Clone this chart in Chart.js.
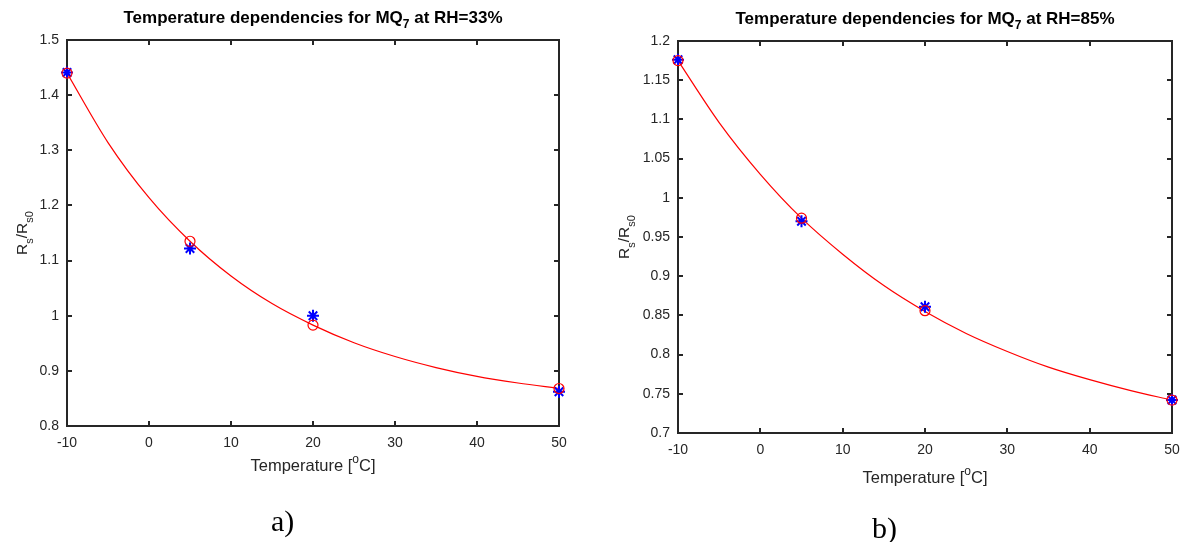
<!DOCTYPE html>
<html><head><meta charset="utf-8">
<script src="https://cdn.jsdelivr.net/npm/chart.js@4"></script>
<style>
html,body{margin:0;padding:0;background:#fff;width:1192px;height:542px;overflow:hidden}
.wrap{position:absolute;top:0;height:542px}
.lab{position:absolute;font-family:"Liberation Serif","Times New Roman",serif;font-size:30px;color:#000;line-height:1}
</style></head><body>
<div class="wrap" style="left:0;width:596px"><canvas id="c1" width="596" height="542"></canvas></div>
<div class="wrap" style="left:600px;width:592px"><canvas id="c2" width="592" height="542"></canvas></div>
<div class="lab" style="left:271px;top:506px">a)</div>
<div class="lab" style="left:872px;top:513px">b)</div>
<script>
// ---- data ----
const xTicks = [-10, 0, 10, 20, 30, 40, 50];
const tempPts = [-10, 5, 20, 50];
const fitX = [-10, -5, 0, 5, 10, 15, 20, 25, 30, 35, 40, 45, 50];
// RH = 33%
const measA = [1.441, 1.122, 1.000, 0.862];
const modelA = [1.440, 1.135, 0.983, 0.868];
const curveA = [1.440, 1.314, 1.214, 1.135, 1.072, 1.022, 0.983, 0.951, 0.926, 0.906, 0.890, 0.878, 0.868];
const yTicksA = [0.8, 0.9, 1, 1.1, 1.2, 1.3, 1.4, 1.5];
// RH = 85%
const measB = [1.176, 0.970, 0.861, 0.742];
const modelB = [1.175, 0.974, 0.856, 0.742];
const curveB = [1.175, 1.096, 1.030, 0.974, 0.928, 0.888, 0.855, 0.827, 0.804, 0.784, 0.768, 0.754, 0.742];
const yTicksB = [0.7, 0.75, 0.8, 0.85, 0.9, 0.95, 1, 1.05, 1.1, 1.15, 1.2];

const titleA = [{t:'Temperature dependencies for MQ'},{t:'7',sub:true},{t:' at RH=33%'}];
const titleB = [{t:'Temperature dependencies for MQ'},{t:'7',sub:true},{t:' at RH=85%'}];
const xLabel = [{t:'Temperature ['},{t:'o',sup:true},{t:'C]'}];
const yLabel = [{t:'R'},{t:'s',sub:true},{t:'/R'},{t:'s0',sub:true}];

const AX = '#262626';
const FAM = '"Liberation Sans", Arial, sans-serif';

function rich(ctx, segs, x, y, o) {
  ctx.save();
  ctx.translate(x, y);
  if (o.rot) ctx.rotate(o.rot);
  const f = s => (o.bold ? 'bold ' : '') + ((s.sub || s.sup) ? Math.round(o.size * 0.72) : o.size) + 'px ' + FAM;
  let w = 0;
  for (const s of segs) { ctx.font = f(s); w += ctx.measureText(s.t).width; }
  let cx = -w / 2;
  ctx.fillStyle = o.color; ctx.textBaseline = 'middle'; ctx.textAlign = 'left';
  for (const s of segs) {
    ctx.font = f(s);
    const dy = s.sub ? o.size * 0.42 : (s.sup ? -o.size * 0.4 : 0);
    ctx.fillText(s.t, cx, dy);
    cx += ctx.measureText(s.t).width;
  }
  ctx.restore();
}

function makeChart(id, cfg) {
  const framePlugin = {
    id: 'frame' + id,
    beforeDatasetsDraw(chart) {
      const {ctx, chartArea: a, scales: {x, y}} = chart;
      ctx.save();
      ctx.strokeStyle = AX; ctx.lineWidth = 2;
      ctx.beginPath();
      for (const v of xTicks) {
        const px = Math.round(x.getPixelForValue(v));
        ctx.moveTo(px, a.bottom); ctx.lineTo(px, a.bottom - 5);
        ctx.moveTo(px, a.top); ctx.lineTo(px, a.top + 5);
      }
      for (const v of cfg.yTicks) {
        const py = Math.round(y.getPixelForValue(v));
        ctx.moveTo(a.left, py); ctx.lineTo(a.left + 5, py);
        ctx.moveTo(a.right, py); ctx.lineTo(a.right - 5, py);
      }
      ctx.stroke();
      ctx.strokeRect(a.left, a.top, a.right - a.left, a.bottom - a.top);
      ctx.restore();
    },
    afterDraw(chart) {
      const {ctx, chartArea: a} = chart;
      const cx = (a.left + a.right) / 2;
      rich(ctx, cfg.title, cx, cfg.titleY, {size: 17, bold: true, color: '#000'});
      rich(ctx, xLabel, cx, a.bottom + cfg.xLabOff, {size: 16.5, color: AX});
      rich(ctx, yLabel, cfg.yLabX, (a.top + a.bottom) / 2, {size: 15.5, color: AX, rot: -Math.PI / 2});
    }
  };
  return new Chart(document.getElementById(id), {
    type: 'scatter',
    data: {
      datasets: [
        {type: 'line', data: fitX.map((v, i) => ({x: v, y: cfg.curve[i]})), borderColor: '#ff0000', borderWidth: 1.2,
         pointRadius: 0, fill: false, cubicInterpolationMode: 'monotone', order: 3},
        {data: tempPts.map((v, i) => ({x: v, y: cfg.meas[i]})), pointStyle: 'star', pointRadius: 6,
         borderColor: '#0000ff', backgroundColor: '#0000ff', pointBorderWidth: 2, clip: false, order: 2},
        {data: tempPts.map((v, i) => ({x: v, y: cfg.model[i]})), pointStyle: 'circle', pointRadius: 5,
         borderColor: '#ff0000', backgroundColor: 'rgba(0,0,0,0)', pointBorderWidth: 1.2, clip: false, order: 1}
      ]
    },
    options: {
      responsive: false, animation: false, events: [],
      layout: {padding: cfg.pad},
      plugins: {legend: {display: false}, title: {display: false}, tooltip: {enabled: false}},
      scales: {
        x: {type: 'linear', min: -10, max: 50,
            afterBuildTicks: s => { s.ticks = xTicks.map(v => ({value: v})); },
            afterFit: s => { s.height = 30; },
            grid: {display: false, drawTicks: false}, border: {display: false},
            ticks: {color: AX, font: {family: FAM, size: 14}, padding: 9, maxRotation: 0, autoSkip: false,
                    callback: v => String(v)}},
        y: {type: 'linear', min: cfg.yTicks[0], max: cfg.yTicks[cfg.yTicks.length - 1],
            afterBuildTicks: s => { s.ticks = cfg.yTicks.map(v => ({value: v})); },
            afterFit: s => { s.width = cfg.yW; },
            grid: {display: false, drawTicks: false}, border: {display: false},
            ticks: {color: AX, font: {family: FAM, size: 14}, padding: 8, autoSkip: false,
                    callback: v => String(+v.toFixed(2))}}
      }
    },
    plugins: [framePlugin]
  });
}

makeChart('c1', {meas: measA, model: modelA, curve: curveA, yTicks: yTicksA, title: titleA,
  yW: 67, pad: {left: 0, right: 37, top: 40, bottom: 86}, titleY: 18, xLabOff: 40, yLabX: 23});
makeChart('c2', {meas: measB, model: modelB, curve: curveB, yTicks: yTicksB, title: titleB,
  yW: 78, pad: {left: 0, right: 20, top: 41, bottom: 79}, titleY: 19, xLabOff: 45, yLabX: 25});
</script>
</body></html>
